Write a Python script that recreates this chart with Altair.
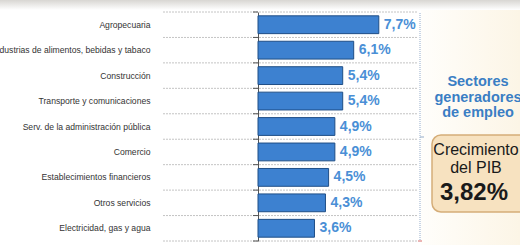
import altair as alt
import pandas as pd

sectors = [
    "Agropecuaria",
    "Industrias de alimentos, bebidas y tabaco",
    "Construcción",
    "Transporte y comunicaciones",
    "Serv. de la administración pública",
    "Comercio",
    "Establecimientos financieros",
    "Otros servicios",
    "Electricidad, gas y agua",
]
growth = [7.7, 6.1, 5.4, 5.4, 4.9, 4.9, 4.5, 4.3, 3.6]
side_title = ["Sectores", "generadores", "de empleo"]
box_lines = ["Crecimiento", "del PIB"]
gdp_growth = ["3,82%"]

df = pd.DataFrame({"sector": sectors, "growth": growth})
one = pd.DataFrame({"k": [0]})

W, H = 262, 229
FONT = "Liberation Sans"
xscale = alt.Scale(domain=[0, 16.7], nice=False, zero=True)

# background pieces
bg_top = alt.Chart(one).mark_rect(
    color=alt.Gradient(gradient="linear", x1=0, y1=0, x2=0, y2=1,
                       stops=[alt.GradientStop(color="#d8d6d2", offset=0),
                              alt.GradientStop(color="#ffffff", offset=1)])
).encode(x=alt.value(-258), x2=alt.value(262), y=alt.value(-12), y2=alt.value(-2))

bg_right = alt.Chart(one).mark_rect(
    color=alt.Gradient(gradient="linear", x1=0, y1=0, x2=1, y2=0,
                       stops=[alt.GradientStop(color="#fffefb", offset=0),
                              alt.GradientStop(color="#fcf5e6", offset=1)])
).encode(x=alt.value(163), x2=alt.value(262), y=alt.value(-2), y2=alt.value(233))

# grid lines at row boundaries (extend left of axis)
ygrid = alt.Y("sector:N", sort=sectors, bandPosition=0,
              scale=alt.Scale(paddingInner=0, paddingOuter=0), axis=None)
grid = alt.Chart(df).mark_rule(color="#c4c4c4", strokeDash=[2, 1], strokeWidth=1).encode(
    y=ygrid, x=alt.value(-95), x2=alt.value(160))
grid_bottom = alt.Chart(one).mark_rule(color="#c4c4c4", strokeDash=[2, 1], strokeWidth=1).encode(
    y=alt.value(H), x=alt.value(-95), x2=alt.value(160))
ticks = alt.Chart(df).mark_rule(color="#555555", strokeWidth=1).encode(
    y=ygrid, x=alt.value(-5), x2=alt.value(0))
ticks_bottom = alt.Chart(one).mark_rule(color="#555555", strokeWidth=1).encode(
    y=alt.value(H), x=alt.value(-5), x2=alt.value(0))

ybars = alt.Y("sector:N", sort=sectors,
              scale=alt.Scale(paddingInner=0.3, paddingOuter=0.15),
              axis=alt.Axis(title=None, ticks=False, grid=False, domain=True,
                            domainColor="#555555", labelPadding=108, labelFontSize=8.6,
                            labelColor="#333333", labelFont=FONT, labelLimit=400))

bars = alt.Chart(df).mark_bar(color="#3d81d0", stroke="#1f4e86", strokeWidth=1).encode(
    x=alt.X("growth:Q", scale=xscale, axis=None),
    y=ybars,
)
labels = alt.Chart(df).transform_calculate(
    lab="replace(format(datum.growth, '.1f'), '.', ',') + '%'"
).mark_text(align="left", baseline="middle", dx=5, fontSize=14, fontWeight="bold",
            color="#4a8fd6", font=FONT).encode(
    x=alt.X("growth:Q", scale=xscale, axis=None),
    y=ybars,
    text="lab:N",
)

# bracket
bracket = alt.Chart(one).mark_rule(color="#93abc8", strokeDash=[1, 1], strokeWidth=1).encode(
    x=alt.value(162), y=alt.value(1), y2=alt.value(228))
hook = alt.Chart(one).mark_rule(color="#93abc8", strokeWidth=1).encode(
    x=alt.value(162), x2=alt.value(166), y=alt.value(125))
curl = alt.Chart(one).mark_rule(color="#d86a6a", strokeWidth=1).encode(
    x=alt.value(160), x2=alt.value(164), y=alt.value(229))

side = alt.Chart(one).mark_text(align="center", baseline="top", fontSize=14.5, fontWeight="bold",
                                color="#3a7ec4", font=FONT, lineHeight=15.5).encode(
    x=alt.value(220), y=alt.value(63), text=alt.value(side_title))

box = alt.Chart(one).mark_rect(fill="#f7e2c0", stroke="#d5ad78", strokeWidth=1.5,
                               cornerRadius=9).encode(
    x=alt.value(174), x2=alt.value(275), y=alt.value(123), y2=alt.value(200))
box_txt = alt.Chart(one).mark_text(align="center", baseline="top", fontSize=16,
                                   color="#1a1a1a", font=FONT, lineHeight=17.5).encode(
    x=alt.value(218), y=alt.value(130), text=alt.value(box_lines))
box_val = alt.Chart(one).mark_text(align="center", baseline="middle", fontSize=24,
                                   fontWeight="bold", color="#1a1a1a", font=FONT).encode(
    x=alt.value(216), y=alt.value(181), text=alt.value(gdp_growth[0]))

chart = alt.layer(
    bg_top, bg_right, grid, grid_bottom, ticks, ticks_bottom, bars, labels,
    bracket, hook, curl, side, box, box_txt, box_val,
).resolve_scale(y="independent").properties(
    width=W, height=H,
    padding={"left": 258, "top": 12, "right": 0, "bottom": 4},
    autosize=alt.AutoSizeParams(type="none"),
    background="#ffffff",
).configure_view(stroke=None)

chart.save("out.html", embed_options={"renderer": "svg", "actions": False})
